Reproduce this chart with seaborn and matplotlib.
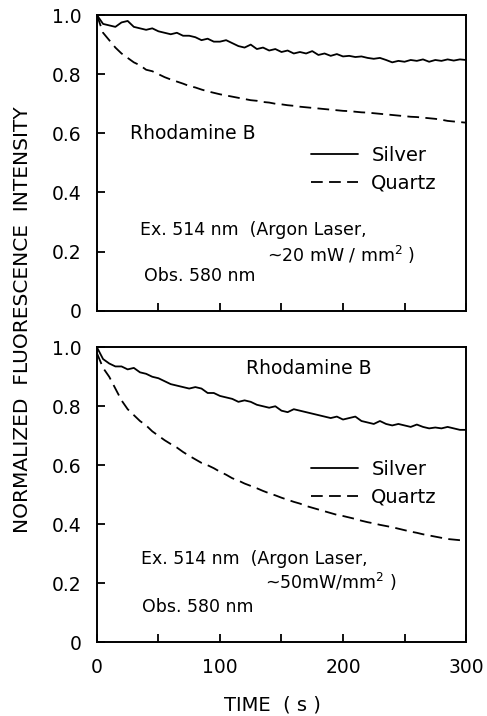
import matplotlib
matplotlib.use("Agg")
import matplotlib.pyplot as plt
import numpy as np
import pandas as pd
import seaborn as sns

time_s = np.arange(0, 301, 5)

# panel 1: ~20 mW/mm^2
silver_20 = [1.00, 0.97, 0.965, 0.96, 0.975, 0.98, 0.96, 0.955, 0.95, 0.955, 0.945,
             0.94, 0.935, 0.94, 0.93, 0.93, 0.925, 0.915, 0.92, 0.91, 0.91,
             0.915, 0.905, 0.895, 0.89, 0.90, 0.885, 0.89, 0.88, 0.885, 0.875,
             0.88, 0.87, 0.875, 0.87, 0.878, 0.865, 0.87, 0.862, 0.868, 0.86,
             0.862, 0.858, 0.86, 0.855, 0.852, 0.855, 0.848, 0.84, 0.845, 0.842,
             0.848, 0.845, 0.85, 0.842, 0.848, 0.845, 0.85, 0.846, 0.85, 0.848]
quartz_20 = [1.00, 0.94, 0.915, 0.89, 0.87, 0.855, 0.84, 0.83, 0.815, 0.81, 0.80,
             0.79, 0.782, 0.775, 0.768, 0.76, 0.755, 0.748, 0.742, 0.737, 0.732,
             0.728, 0.724, 0.72, 0.716, 0.712, 0.71, 0.706, 0.704, 0.70, 0.698,
             0.695, 0.693, 0.69, 0.688, 0.686, 0.684, 0.682, 0.68, 0.678, 0.676,
             0.675, 0.673, 0.671, 0.67, 0.668, 0.666, 0.664, 0.662, 0.66, 0.658,
             0.656, 0.655, 0.653, 0.651, 0.649, 0.646, 0.642, 0.64, 0.638, 0.636]

# panel 2: ~50 mW/mm^2
silver_50 = [1.00, 0.96, 0.945, 0.935, 0.935, 0.925, 0.93, 0.915, 0.91, 0.90, 0.895,
             0.885, 0.875, 0.87, 0.865, 0.86, 0.865, 0.86, 0.845, 0.845, 0.835,
             0.83, 0.825, 0.815, 0.82, 0.815, 0.805, 0.80, 0.795, 0.80, 0.785,
             0.78, 0.79, 0.785, 0.78, 0.775, 0.77, 0.765, 0.76, 0.765, 0.755,
             0.76, 0.765, 0.75, 0.745, 0.74, 0.75, 0.74, 0.735, 0.74, 0.735,
             0.73, 0.738, 0.73, 0.725, 0.728, 0.725, 0.73, 0.725, 0.72, 0.72]
quartz_50 = [0.98, 0.93, 0.90, 0.86, 0.82, 0.79, 0.77, 0.75, 0.735, 0.715, 0.70,
             0.685, 0.672, 0.66, 0.645, 0.632, 0.62, 0.608, 0.60, 0.59, 0.578,
             0.568, 0.556, 0.548, 0.538, 0.53, 0.522, 0.513, 0.505, 0.498, 0.49,
             0.483, 0.476, 0.47, 0.462, 0.456, 0.45, 0.444, 0.438, 0.432, 0.428,
             0.423, 0.418, 0.412, 0.407, 0.403, 0.398, 0.394, 0.39, 0.385, 0.38,
             0.375, 0.371, 0.366, 0.362, 0.358, 0.354, 0.35, 0.348, 0.346, 0.345]

sns.set_style("ticks")
plt.rcParams["font.family"] = ["DejaVu Sans"]
plt.rcParams["text.color"] = "black"
plt.rcParams["xtick.color"] = "black"
plt.rcParams["ytick.color"] = "black"
plt.rcParams["axes.edgecolor"] = "black"

fig = plt.figure(figsize=(4.87, 7.16), dpi=100)
ax1 = fig.add_axes([0.199, 0.566, 0.758, 0.413])
ax2 = fig.add_axes([0.199, 0.103, 0.758, 0.412])

panels = [
    (ax1, silver_20, quartz_20, "~20 mW / mm$^2$ )",
     (27, 0.60), (0.58, 0.479), (35, 0.274), (138, 0.189), (38, 0.116)),
    (ax2, silver_50, quartz_50, "~50mW/mm$^2$ )",
     (121, 0.927), (0.58, 0.54), (35.5, 0.283), (137, 0.204), (37, 0.12)),
]

for ax, silver, quartz, power, rh, leg, ex, pw, obs in panels:
    df = pd.DataFrame({
        "time": np.concatenate([time_s, time_s]),
        "value": silver + quartz,
        "substrate": ["Silver"] * len(time_s) + ["Quartz"] * len(time_s),
    })
    sns.lineplot(data=df, x="time", y="value", style="substrate",
                 dashes={"Silver": "", "Quartz": (6.5, 3.5)},
                 color="black", linewidth=1.3, ax=ax, legend=False)
    ax.set_xlim(0, 300)
    ax.set_ylim(0, 1.0)
    ax.set_xlabel("")
    ax.set_ylabel("")
    ax.set_yticks([0, 0.2, 0.4, 0.6, 0.8, 1.0])
    ax.set_yticklabels(["0", "0.2", "0.4", "0.6", "0.8", "1.0"], fontsize=13.5)
    ax.set_xticks([0, 50, 100, 150, 200, 250, 300])
    ax.tick_params(axis="both", direction="in", length=6, width=1.3,
                   top=False, right=False, pad=11)
    for sp in ax.spines.values():
        sp.set_visible(True)
        sp.set_linewidth(1.4)
    ax.legend(handles=ax.lines[:2], labels=["Silver", "Quartz"],
              loc="center left", bbox_to_anchor=leg, frameon=False,
              borderpad=0, borderaxespad=0, handlelength=2.4,
              handletextpad=0.7, labelspacing=0.45, fontsize=14)
    ax.text(rh[0], rh[1], "Rhodamine B", fontsize=13.5, va="center", ha="left")
    ax.text(ex[0], ex[1], "Ex. 514 nm  (Argon Laser,", fontsize=12.5,
            va="center", ha="left")
    ax.text(pw[0], pw[1], power, fontsize=12.5, va="center", ha="left")
    ax.text(obs[0], obs[1], "Obs. 580 nm", fontsize=12.5, va="center", ha="left")

ax1.set_xticklabels([])
ax2.set_xticklabels(["0", "", "100", "", "200", "", "300"], fontsize=13.5)

fig.text(0.046, 0.553, "NORMALIZED  FLUORESCENCE  INTENSITY", rotation=90,
         fontsize=14.5, ha="center", va="center")
fig.text(0.56, 0.015, "TIME  ( s )", fontsize=14, ha="center", va="center")

fig.savefig("out.png", dpi=100)
